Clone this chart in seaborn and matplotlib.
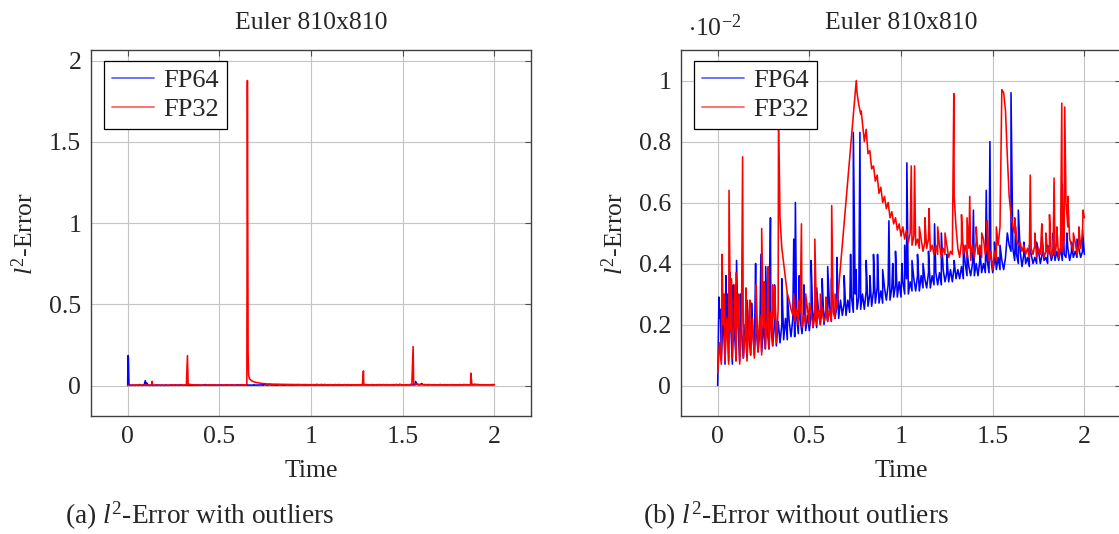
import numpy as np
import pandas as pd
import matplotlib
matplotlib.use("Agg")
import matplotlib.pyplot as plt
import seaborn as sns
from matplotlib.lines import Line2D

# ---------------- data ----------------
series_names = ["FP64", "FP32"]
title_text = "Euler 810x810"
x_ticks = [0, 0.5, 1, 1.5, 2]
x_tick_labels = ["0", "0.5", "1", "1.5", "2"]
left_y_ticks = [0, 0.5, 1, 1.5, 2]
left_y_tick_labels = ["0", "0.5", "1", "1.5", "2"]
right_y_ticks = [0, 0.2, 0.4, 0.6, 0.8, 1.0]
right_y_tick_labels = ["0", "0.2", "0.4", "0.6", "0.8", "1"]

# sampled times 0.00 .. 2.00 (step 0.01)
time_grid = np.round(np.arange(201) * 0.01, 2)

# l2-error without outliers, in units of 1e-2 (one row per 0.1 time units)
fp64_base = [
    0.00, 0.22, 0.08, 0.24, 0.07, 0.20, 0.08, 0.22, 0.07, 0.19,
    0.09, 0.21, 0.08, 0.18, 0.09, 0.20, 0.09, 0.17, 0.10, 0.19,
    0.10, 0.19, 0.11, 0.18, 0.11, 0.20, 0.12, 0.19, 0.12, 0.20,
    0.13, 0.20, 0.13, 0.21, 0.14, 0.20, 0.15, 0.22, 0.15, 0.21,
    0.16, 0.22, 0.16, 0.23, 0.17, 0.22, 0.17, 0.24, 0.18, 0.23,
    0.18, 0.24, 0.19, 0.25, 0.19, 0.24, 0.20, 0.26, 0.20, 0.25,
    0.21, 0.26, 0.21, 0.27, 0.22, 0.26, 0.22, 0.28, 0.23, 0.27,
    0.23, 0.28, 0.24, 0.29, 0.24, 0.30, 0.25, 0.29, 0.25, 0.30,
    0.25, 0.31, 0.26, 0.30, 0.26, 0.31, 0.27, 0.32, 0.27, 0.31,
    0.27, 0.32, 0.28, 0.33, 0.28, 0.32, 0.29, 0.33, 0.29, 0.34,
    0.29, 0.34, 0.30, 0.35, 0.30, 0.34, 0.31, 0.35, 0.31, 0.36,
    0.31, 0.36, 0.32, 0.35, 0.32, 0.37, 0.32, 0.36, 0.33, 0.37,
    0.33, 0.37, 0.33, 0.38, 0.34, 0.37, 0.34, 0.38, 0.34, 0.39,
    0.35, 0.38, 0.35, 0.39, 0.35, 0.40, 0.36, 0.39, 0.36, 0.40,
    0.36, 0.40, 0.36, 0.41, 0.37, 0.40, 0.37, 0.41, 0.37, 0.42,
    0.37, 0.41, 0.38, 0.42, 0.38, 0.41, 0.38, 0.42, 0.50, 0.46,
    0.44, 0.45, 0.41, 0.43, 0.40, 0.44, 0.39, 0.43, 0.40, 0.42,
    0.39, 0.43, 0.40, 0.42, 0.40, 0.44, 0.40, 0.43, 0.41, 0.42,
    0.40, 0.44, 0.41, 0.43, 0.41, 0.44, 0.41, 0.45, 0.41, 0.43,
    0.42, 0.45, 0.41, 0.44, 0.42, 0.44, 0.42, 0.45, 0.42, 0.44,
    0.43,
]
fp32_base = [
    0.04, 0.14, 0.07, 0.20, 0.08, 0.22, 0.07, 0.18, 0.09, 0.21,
    0.08, 0.19, 0.07, 0.21, 0.09, 0.17, 0.08, 0.20, 0.10, 0.22,
    0.09, 0.20, 0.11, 0.23, 0.10, 0.19, 0.12, 0.22, 0.12, 0.24,
    0.13, 0.22, 0.14, 0.25, 0.55, 0.45, 0.40, 0.35, 0.30, 0.28,
    0.25, 0.23, 0.21, 0.25, 0.20, 0.24, 0.19, 0.23, 0.20, 0.25,
    0.20, 0.24, 0.19, 0.23, 0.20, 0.25, 0.20, 0.24, 0.21, 0.23,
    0.21, 0.25, 0.21, 0.24, 0.22, 0.25, np.nan, np.nan, np.nan, np.nan,
    np.nan, np.nan, np.nan, np.nan, np.nan, np.nan, 0.96, 0.92, 0.89, 0.86,
    0.80, 0.84, 0.76, 0.77, 0.71, 0.72, 0.67, 0.69, 0.63, 0.65,
    0.60, 0.62, 0.58, 0.60, 0.55, 0.57, 0.53, 0.55, 0.51, 0.53,
    0.49, 0.52, 0.48, 0.51, 0.47, 0.50, 0.46, 0.49, 0.46, 0.48,
    0.45, 0.48, 0.44, 0.47, 0.45, 0.48, 0.44, 0.46, 0.43, 0.46,
    0.43, 0.46, 0.42, 0.45, 0.43, 0.46, 0.42, 0.44, 0.43, 0.62,
    0.52, 0.45, 0.42, 0.47, 0.43, 0.46, 0.42, 0.45, 0.41, 0.46,
    0.42, 0.47, 0.43, 0.46, 0.42, 0.48, 0.43, 0.46, 0.41, 0.44,
    0.38, 0.44, 0.41, 0.46, 0.52, 0.97, 0.96, 0.90, 0.75, 0.62,
    0.56, 0.52, 0.50, 0.48, 0.46, 0.47, 0.44, 0.46, 0.43, 0.45,
    0.42, 0.45, 0.43, 0.46, 0.42, 0.45, 0.43, 0.46, 0.42, 0.44,
    0.43, 0.46, 0.42, 0.45, 0.43, 0.47, 0.42, 0.45, 0.44, 0.48,
    0.60, 0.52, 0.48, 0.46, 0.44, 0.47, 0.43, 0.46, 0.45, 0.50,
    0.55,
]

# narrow spikes between samples (time, value in 1e-2)
fp64_spike_t = [0.007, 0.015, 0.045, 0.055, 0.067, 0.085, 0.103, 0.125, 0.16, 0.185,
                0.207, 0.236, 0.262, 0.288, 0.31, 0.35, 0.38, 0.415, 0.424, 0.445,
                0.47, 0.51, 0.54, 0.57, 0.60, 0.62, 0.65, 0.69, 0.725, 0.74,
                0.755, 0.776, 0.81, 0.83, 0.85, 0.872, 0.90, 0.934, 0.955, 0.97,
                1.005, 1.02, 1.032, 1.06, 1.09, 1.12, 1.15, 1.183, 1.22, 1.25,
                1.29, 1.34, 1.36, 1.395, 1.43, 1.465, 1.485, 1.51, 1.54, 1.60,
                1.625, 1.64, 1.67, 1.70, 1.74, 1.77, 1.80, 1.83, 1.88, 1.905,
                1.93, 1.96, 1.99]
fp64_spike_v = [0.29, 0.25, 0.36, 0.30, 0.37, 0.33, 0.41, 0.30, 0.28, 0.27,
                0.40, 0.43, 0.39, 0.55, 0.33, 0.35, 0.30, 0.48, 0.60, 0.36,
                0.33, 0.41, 0.32, 0.35, 0.39, 0.35, 0.42, 0.36, 0.43, 0.83,
                0.38, 0.83, 0.41, 0.36, 0.43, 0.43, 0.38, 0.54, 0.40, 0.44,
                0.40, 0.46, 0.73, 0.41, 0.43, 0.40, 0.44, 0.53, 0.50, 0.43,
                0.41, 0.46, 0.44, 0.575, 0.45, 0.64, 0.80, 0.47, 0.46, 0.96,
                0.52, 0.575, 0.47, 0.46, 0.47, 0.49, 0.46, 0.50, 0.66, 0.50,
                0.47, 0.48, 0.51]
fp32_spike_t = [0.024, 0.035, 0.062, 0.075, 0.095, 0.10, 0.115, 0.136, 0.155, 0.175,
                0.21, 0.24, 0.255, 0.276, 0.30, 0.312, 0.332, 0.415, 0.44, 0.457,
                0.48, 0.50, 0.53, 0.56, 0.59, 0.622, 0.64, 0.756, 0.783, 1.056,
                1.074, 1.10, 1.13, 1.153, 1.20, 1.24, 1.288, 1.33, 1.36, 1.375,
                1.41, 1.44, 1.47, 1.52, 1.62, 1.705, 1.73, 1.768, 1.79, 1.81,
                1.835, 1.85, 1.877, 1.893, 1.91, 1.94, 1.97, 1.993]
fp32_spike_v = [0.43, 0.30, 0.64, 0.35, 0.33, 0.37, 0.30, 0.75, 0.32, 0.28,
                0.33, 0.515, 0.34, 0.39, 0.33, 0.324, 0.90, 0.30, 0.28, 0.53,
                0.30, 0.27, 0.48, 0.30, 0.29, 0.59, 0.30, 1.00, 0.90, 0.72,
                0.72, 0.52, 0.55, 0.58, 0.52, 0.50, 0.957, 0.56, 0.55, 0.62,
                0.52, 0.50, 0.54, 0.52, 0.55, 0.69, 0.50, 0.53, 0.50, 0.56,
                0.68, 0.52, 0.926, 0.913, 0.62, 0.50, 0.52, 0.575]

# outliers (raw l2-error) removed in the right-hand plot
fp64_outlier_t = [0.002, 0.004, 0.096, 0.105, 1.57, 1.605]
fp64_outlier_v = [0.184, 0.17, 0.03, 0.015, 0.025, 0.012]
fp32_outlier_t = [0.133, 0.326, 0.653, 0.657, 0.66, 0.665, 0.675, 0.69, 0.71, 0.73,
                  0.745, 1.286, 1.557, 1.872]
fp32_outlier_v = [0.025, 0.184, 1.878, 0.20, 0.06, 0.04, 0.03, 0.022, 0.017, 0.013,
                  0.011, 0.09, 0.24, 0.076]


def build(base, spike_t, spike_v, out_t=None, out_v=None, scale=1.0):
    base = np.asarray(base, dtype=float)
    keep = ~np.isnan(base)
    t = np.concatenate([time_grid[keep], spike_t])
    v = np.concatenate([base[keep], spike_v]) * scale
    if out_t is not None:
        t = np.concatenate([t, out_t])
        v = np.concatenate([v, out_v])
    order = np.argsort(t, kind="stable")
    return t[order], v[order]


def frame(parts):
    rows = []
    for name, (t, v) in parts:
        rows.append(pd.DataFrame({"Time": t, "err": v, "series": name}))
    return pd.concat(rows, ignore_index=True)


df_left = frame([
    ("FP64", build(fp64_base, fp64_spike_t, fp64_spike_v, fp64_outlier_t, fp64_outlier_v, 0.01)),
    ("FP32", build(fp32_base, fp32_spike_t, fp32_spike_v, fp32_outlier_t, fp32_outlier_v, 0.01)),
])
df_right = frame([
    ("FP64", build(fp64_base, fp64_spike_t, fp64_spike_v)),
    ("FP32", build(fp32_base, fp32_spike_t, fp32_spike_v)),
])

# ---------------- style ----------------
sns.set_theme(style="white")
plt.rcParams["font.family"] = ["Liberation Serif", "DejaVu Serif"]
plt.rcParams["mathtext.fontset"] = "custom"
plt.rcParams["mathtext.rm"] = "Liberation Serif"
plt.rcParams["mathtext.it"] = "Liberation Serif:italic"
plt.rcParams["axes.unicode_minus"] = True

FS = 18.5
palette = {"FP64": "#0000ff", "FP32": "#ff0000"}
W, H = 1119, 534
fig = plt.figure(figsize=(W / 100, H / 100), dpi=100)


def px_axes(x0, y_top, w, h):
    return fig.add_axes([x0 / W, (H - y_top - h) / H, w / W, h / H])


ax_l = px_axes(91, 50, 440, 366)
ax_r = px_axes(681, 50, 440, 366)

for ax, df, yt, ytl, ylim in [
    (ax_l, df_left, left_y_ticks, left_y_tick_labels, (-0.1878, 2.0658)),
    (ax_r, df_right, right_y_ticks, right_y_tick_labels, (-0.1, 1.1)),
]:
    sns.lineplot(data=df, x="Time", y="err", hue="series", hue_order=series_names,
                 palette=palette, estimator=None, sort=False, lw=1.15,
                 legend=False, ax=ax)
    ax.set_xlim(-0.2, 2.2)
    ax.set_ylim(*ylim)
    ax.set_xticks(x_ticks)
    ax.set_xticklabels(x_tick_labels)
    ax.set_yticks(yt)
    ax.set_yticklabels(ytl)
    ax.grid(True, color="#c4c4c4", lw=0.8)
    ax.set_axisbelow(True)
    for s in ax.spines.values():
        s.set_visible(True)
        s.set_color("#404040")
        s.set_linewidth(1.0)
    ax.tick_params(direction="in", length=4, width=0.8, color="#505050",
                   top=True, right=True, labelsize=FS, pad=7)
    ax.set_title(title_text, fontsize=FS, pad=15)
    ax.set_xlabel("Time", fontsize=FS)
    ax.set_ylabel("$l^2$-Error", fontsize=FS)
    ax.xaxis.set_label_coords(0.5, -0.12)
    ax.yaxis.set_label_coords(-0.12, 0.5)
    handles = [Line2D([], [], color=palette[n], lw=1.3, alpha=0.6) for n in series_names]
    leg = ax.legend(handles, series_names, loc="upper left",
                    bbox_to_anchor=(13 / 440, 1 - 11 / 366), borderaxespad=0,
                    frameon=True, fancybox=False, framealpha=1, edgecolor="black",
                    fontsize=FS + 0.5, handlelength=1.6, handletextpad=0.35,
                    labelspacing=0.2, borderpad=0.3)
    leg.get_frame().set_linewidth(0.9)

fig.text(688 / W, (H - 36) / H, r"$\cdot 10^{-2}$", fontsize=FS, ha="left", va="baseline")
fig.text(65 / W, (H - 524) / H, "(a) $l^2$-Error with outliers", fontsize=FS + 1.2,
         ha="left", va="baseline")
fig.text(643 / W, (H - 524) / H, "(b) $l^2$-Error without outliers", fontsize=FS + 1.2,
         ha="left", va="baseline")

fig.savefig("out.png", dpi=100)
